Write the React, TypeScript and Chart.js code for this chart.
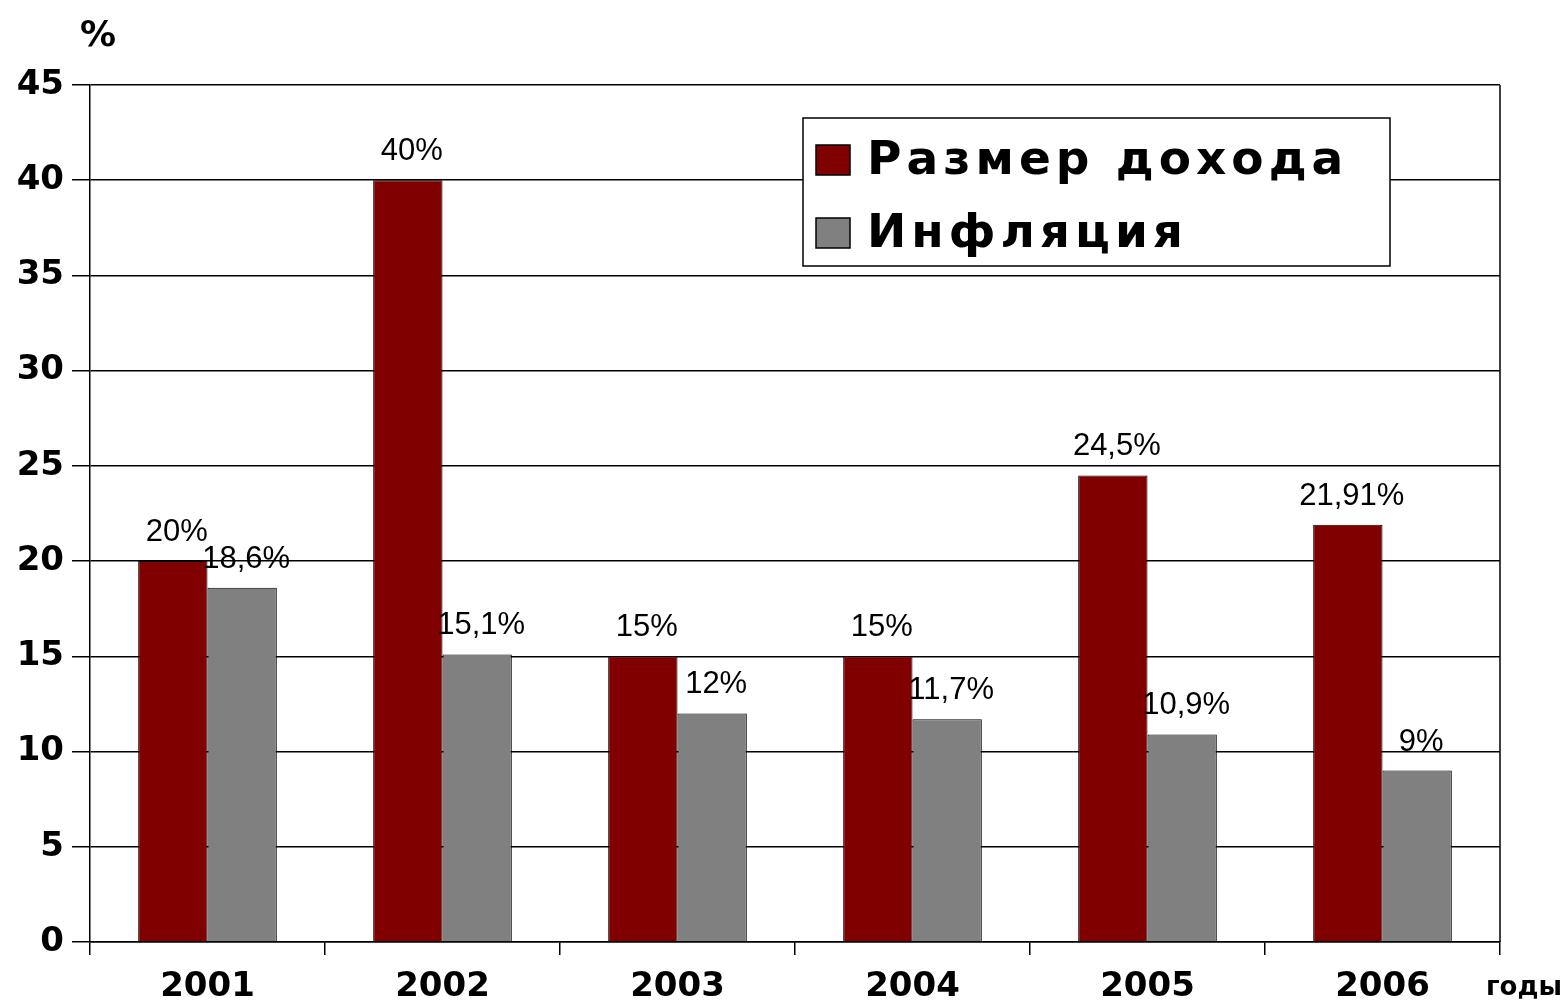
import React, { useEffect, useRef } from "react";
import { Chart, registerables } from "chart.js";

Chart.register(...registerables);

const years = ["2001", "2002", "2003", "2004", "2005", "2006"];
const incomeValues = [20, 40, 15, 15, 24.5, 21.91];
const inflationValues = [18.6, 15.1, 12, 11.7, 10.9, 9];
const incomeLabels = ["20%", "40%", "15%", "15%", "24,5%", "21,91%"];
const inflationLabels = ["18,6%", "15,1%", "12%", "11,7%", "10,9%", "9%"];
const seriesNames = ["Размер дохода", "Инфляция"];
const yUnit = "%";
const xUnit = "годы";

const RED = "#800000";
const GRAY = "#808080";

const extrasPlugin = {
  id: "extras",
  afterDatasetsDraw(chart: any) {
    const ctx = chart.ctx;
    const area = chart.chartArea;
    ctx.save();
    // right border
    ctx.strokeStyle = "#000";
    ctx.lineWidth = 1.5;
    ctx.beginPath();
    ctx.moveTo(area.right, area.top);
    ctx.lineTo(area.right, area.bottom);
    ctx.stroke();

    // data labels
    const labelSets = [incomeLabels, inflationLabels];
    ctx.font = "31px 'Liberation Sans', Arial, sans-serif";
    ctx.fillStyle = "#000";
    ctx.textAlign = "center";
    ctx.textBaseline = "alphabetic";
    chart.data.datasets.forEach((_ds: any, di: number) => {
      const meta = chart.getDatasetMeta(di);
      meta.data.forEach((el: any, i: number) => {
        ctx.fillText(labelSets[di][i], el.x + 4, el.y - 20);
      });
    });

    // axis unit texts
    ctx.font = "bold 36px 'DejaVu Sans', sans-serif";
    ctx.textAlign = "center";
    ctx.fillText(yUnit, 98, 46);
    ctx.font = "bold 26px 'DejaVu Sans', sans-serif";
    ctx.textAlign = "left";
    ctx.fillText(xUnit, 1486, 995);

    // legend
    const lx = 803, ly = 118, lw = 587, lh = 148;
    ctx.fillStyle = "#fff";
    ctx.fillRect(lx, ly, lw, lh);
    ctx.strokeStyle = "#000";
    ctx.lineWidth = 1.5;
    ctx.strokeRect(lx, ly, lw, lh);
    const colors = [RED, GRAY];
    const rowsY = [160, 233];
    ctx.font = "bold 47px 'DejaVu Sans', sans-serif";
    (ctx as any).letterSpacing = "5px";
    ctx.textBaseline = "middle";
    ctx.textAlign = "left";
    seriesNames.forEach((name, i) => {
      ctx.fillStyle = colors[i];
      ctx.fillRect(816, rowsY[i] - 15, 34, 30);
      ctx.strokeStyle = "#000";
      ctx.lineWidth = 1.5;
      ctx.strokeRect(816, rowsY[i] - 15, 34, 30);
      ctx.fillStyle = "#000";
      ctx.fillText(name, 867, rowsY[i] + 2);
    });
    (ctx as any).letterSpacing = "0px";
    ctx.restore();
  },
};

export default function App() {
  const canvasRef = useRef<HTMLCanvasElement | null>(null);

  useEffect(() => {
    if (!canvasRef.current) return;
    const chart = new Chart(canvasRef.current, {
      type: "bar",
      data: {
        labels: years,
        datasets: [
          {
            label: seriesNames[0],
            data: incomeValues,
            backgroundColor: RED,
            borderColor: "#000",
            borderWidth: 1,
            barPercentage: 1,
            categoryPercentage: 0.59,
          },
          {
            label: seriesNames[1],
            data: inflationValues,
            backgroundColor: GRAY,
            borderColor: "#000",
            borderWidth: 1,
            barPercentage: 1,
            categoryPercentage: 0.59,
          },
        ],
      },
      options: {
        responsive: false,
        animation: false,
        devicePixelRatio: 1,
        layout: { padding: { top: 85, right: 67, left: 0, bottom: 0 } },
        plugins: {
          legend: { display: false },
          tooltip: { enabled: false },
        },
        scales: {
          x: {
            offset: true,
            grid: {
              offset: true,
              drawOnChartArea: false,
              drawTicks: true,
              tickLength: 13,
              color: "#000",
              lineWidth: 1.5,
            },
            border: { display: true, color: "#000", width: 1.5 },
            ticks: {
              color: "#000",
              font: { family: "'DejaVu Sans', sans-serif", size: 34, weight: "bold" },
              padding: 12,
            },
            afterFit(scale: any) {
              scale.height = 60;
            },
          },
          y: {
            min: 0,
            max: 45,
            ticks: {
              stepSize: 5,
              color: "#000",
              font: { family: "'DejaVu Sans', sans-serif", size: 34, weight: "bold" },
              padding: 8,
            },
            grid: {
              color: "#000",
              lineWidth: 1.5,
              drawTicks: true,
              tickLength: 18,
            },
            border: { display: true, color: "#000", width: 1.5 },
            afterFit(scale: any) {
              scale.width = 90;
            },
          },
        },
      },
      plugins: [extrasPlugin],
    } as any);
    return () => chart.destroy();
  }, []);

  return (
    <div style={{ position: "absolute", left: 0, top: 0, width: 1567, height: 1002, background: "#fff" }}>
      <canvas ref={canvasRef} width={1567} height={1002} />
    </div>
  );
}
